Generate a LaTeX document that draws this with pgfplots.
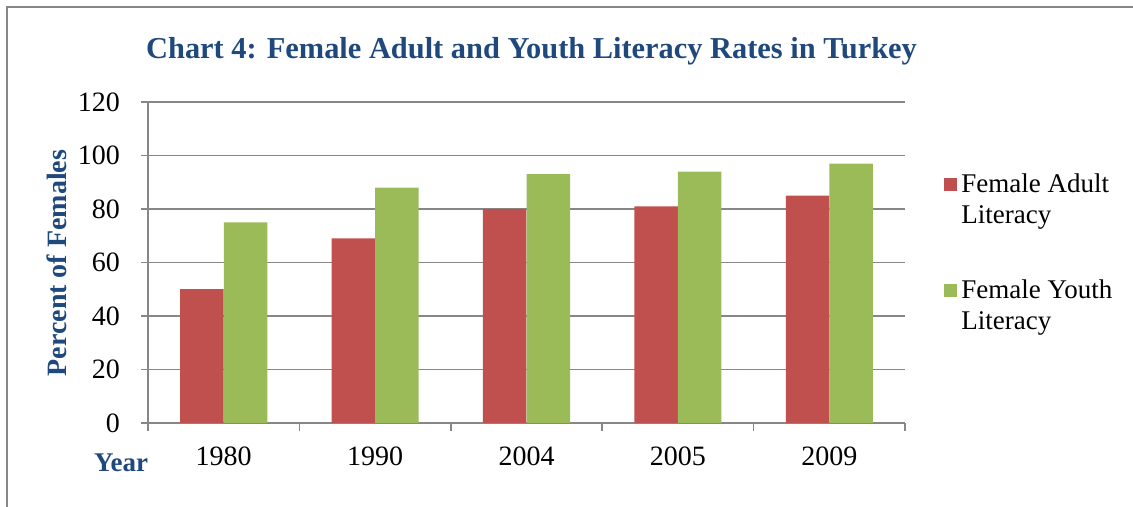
\documentclass[border=0pt]{standalone}
\usepackage{fontspec}
\setmainfont{Liberation Serif}
\usepackage{pgfplots}
\pgfplotsset{compat=1.18}
\definecolor{cred}{HTML}{C0504D}
\definecolor{cgreen}{HTML}{9BBB59}
\definecolor{cblue}{HTML}{1F497D}
\definecolor{cgrid}{HTML}{878787}
\begin{document}
\begin{tikzpicture}
\path[use as bounding box] (0,0) rectangle (566.5pt,253.5pt);
\draw[cgrid, line width=1pt] (3.5pt,0) -- (3.5pt,250pt) -- (566.5pt,250pt);
\node[text=cblue, font=\fontsize{15.2}{18}\selectfont\bfseries] at (265.75pt,228pt) {Chart 4: Female Adult and Youth Literacy Rates in Turkey};
\node[text=cblue, font=\fontsize{14}{16}\selectfont\bfseries, rotate=90] at (28.5pt,122pt) {Percent of Females};
\node[text=cblue, font=\fontsize{13.5}{16}\selectfont\bfseries] at (60.5pt,22pt) {Year};
\begin{axis}[
  at={(74pt,42pt)}, anchor=south west,
  scale only axis, width=378.5pt, height=160.5pt,
  ybar, bar width=21.75pt,
  xmin=-0.5, xmax=4.5, ymin=0, ymax=120,
  ytick={0,20,...,120},
  xtick={0,1,2,3,4},
  xticklabels={1980,1990,2004,2005,2009},
  minor xtick={-0.5,0.5,...,4.5},
  major x tick style={draw=none},
  minor x tick style={cgrid, line width=0.8pt},
  y tick style={cgrid, line width=0.8pt},
  tick align=outside,
  minor tick length=4pt, major tick length=3.5pt,
  axis x line*=bottom, axis y line*=left,
  axis line style={cgrid, line width=0.8pt, -},
  ymajorgrids, major grid style={cgrid, line width=0.8pt},
  /pgf/number format/assume math mode=true,
  tick label style={font=\fontsize{14}{16}\selectfont},
  xticklabel style={yshift=-5pt},
  yticklabel style={xshift=-7pt},
  legend style={draw=none, fill=none, at={(axis description cs:1,0.53)}, anchor=west, xshift=16.5pt,
    font=\fontsize{13.5}{15.5}\selectfont, nodes={align=left, anchor=west}, row sep=22.5pt},
  legend cell align=left,
  legend image code/.code={\fill[#1] (0pt,4.5pt) rectangle (6.5pt,11pt);},
]
\addplot[fill=cred, draw=none, bar shift=-10.9pt] coordinates {(0,50) (1,69) (2,80) (3,81) (4,85)};
\addplot[fill=cgreen, draw=none, bar shift=10.9pt] coordinates {(0,75) (1,88) (2,93) (3,94) (4,97)};
\addlegendentry{Female Adult\\Literacy}
\addlegendentry{Female Youth\\Literacy}
\end{axis}
\end{tikzpicture}
\end{document}
